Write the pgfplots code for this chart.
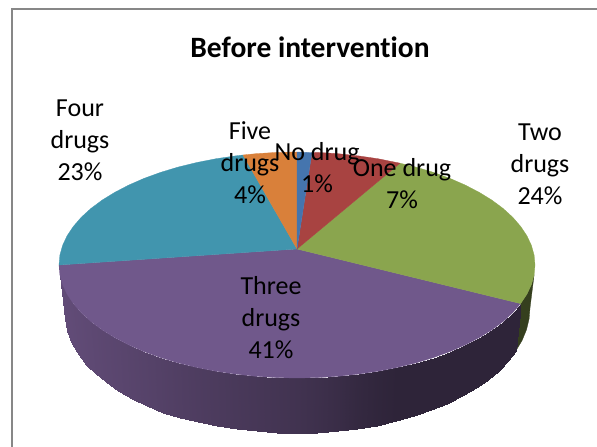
\documentclass[border=0pt]{standalone}
\usepackage{pgfplots}
\pgfplotsset{compat=1.18}
\usepackage{fontspec}
\setmainfont{Carlito}[Ligatures=NoCommon]
\definecolor{cBlue}{HTML}{4575AE}
\definecolor{cRed}{HTML}{A84341}
\definecolor{cGreen}{HTML}{8AA54E}
\definecolor{cPurple}{HTML}{70588B}
\definecolor{cTeal}{HTML}{4195AE}
\definecolor{cOrange}{HTML}{D9803A}
\definecolor{cGreenSide}{HTML}{353F1E}
\definecolor{sideA}{HTML}{624C78}
\definecolor{sideB}{HTML}{2E2439}
\newcommand{\lbl}[3]{\node[align=center,inner sep=0pt,font=\fontsize{26}{32}\selectfont] at (axis cs:#1,#2) {#3};}
\begin{document}
\begin{tikzpicture}
\begin{axis}[
  scale only axis, width=597pt, height=447pt,
  xmin=0, xmax=597, ymin=0, ymax=447, y dir=reverse,
  hide axis, clip=true,
  colormap={sidemap}{color=(sideB) color=(sideA)},
  point meta min=0, point meta max=100,
]
\path (axis cs:0,0) rectangle (axis cs:597,447);
% frame
\addplot[color=black!47, line width=2pt] coordinates {(12,447) (12,9) (597,9)};
% side: green
\addplot[fill=cGreenSide, draw=cGreenSide, line width=.3pt] coordinates {(534.1,274.9) (531.4,284.6) (526.9,294.2) (520.6,303.6) (515.9,350.8) (522.1,340.4) (526.5,329.7) (529.1,318.9) (530,308)} -- cycle;
% side: purple, shaded from the dark right to the lighter left
\addplot[patch, patch type=rectangle, shader=interp, table/row sep=\\,
  patch table={
0 1 3 2\\ 2 3 5 4\\ 4 5 7 6\\ 6 7 9 8\\ 8 9 11 10\\ 10 11 13 12\\ 12 13 15 14\\ 14 15 17 16\\
16 17 19 18\\ 18 19 21 20\\ 20 21 23 22\\ 22 23 25 24\\ 24 25 27 26\\ 26 27 29 28\\ 28 29 31 30\\ 30 31 33 32\\
32 33 35 34\\ 34 35 37 36\\ 36 37 39 38\\ 38 39 41 40\\ 40 41 43 42\\ 42 43 45 44\\ 44 45 47 46\\ 46 47 49 48\\
48 49 51 50\\ 50 51 53 52\\ 52 53 55 54\\ 54 55 57 56\\ 56 57 59 58\\ 58 59 61 60\\ 60 61 63 62\\ 62 63 65 64\\
  }] table[x=x, y=y, point meta=\thisrow{m}] {
x y m\\
520.6 303.6 0\\
515.9 350.8 0\\
512.7 312.8 0\\
508.2 360.8 0\\
503.1 321.5 0\\
498.8 370.5 0\\
492 329.8 0\\
487.9 379.7 0\\
479.3 337.6 0\\
475.5 388.3 0\\
465.3 344.9 0\\
461.8 396.4 0\\
450 351.6 0\\
446.8 403.8 0\\
433.5 357.6 0\\
430.6 410.4 0\\
416 362.9 0\\
413.5 416.3 0\\
397.6 367.4 0\\
395.5 421.3 0\\
378.4 371.2 5\\
376.7 425.5 5\\
358.6 374.1 12\\
357.3 428.7 12\\
338.3 376.3 22\\
337.5 431.1 22\\
317.8 377.6 30\\
317.3 432.5 30\\
297 378 37\\
297 433 37\\
276.2 377.6 42\\
276.7 432.5 42\\
255.7 376.3 47\\
256.5 431.1 47\\
235.4 374.1 52\\
236.7 428.7 52\\
215.6 371.2 57\\
217.3 425.8 57\\
196.4 367.4 62\\
198.5 422 62\\
178 362.9 67\\
180.5 418 67\\
160.5 357.6 72\\
163 412.5 72\\
144 351.6 77\\
147 405.5 77\\
128.7 344.9 81\\
132 398.5 81\\
114.7 337.6 85\\
118.5 390.5 85\\
102 329.8 88\\
106 382 88\\
90.9 321.5 91\\
96 373.5 91\\
81.3 312.8 94\\
86.5 365 94\\
73.4 303.6 96\\
79 354.5 96\\
67.1 294.2 98\\
72.5 344 98\\
62.6 284.6 99\\
67.5 331 99\\
59.9 274.9 100\\
64.9 319 100\\
59 265 100\\
64 308 100\\
};
% top: purple, Three drugs 41%
\addplot[fill=cPurple, draw=cPurple, line width=.3pt] coordinates {(297,249) (520.6,303.6) (512.7,312.8) (503.1,321.5) (492,329.8) (479.3,337.6) (465.3,344.9) (450,351.6) (433.5,357.6) (416,362.9) (397.6,367.4) (378.4,371.2) (358.6,374.1) (338.3,376.3) (317.8,377.6) (297,378) (276.2,377.6) (255.7,376.3) (235.4,374.1) (215.6,371.2) (196.4,367.4) (178,362.9) (160.5,357.6) (144,351.6) (128.7,344.9) (114.7,337.6) (102,329.8) (90.9,321.5) (81.3,312.8) (73.4,303.6) (67.1,294.2) (62.6,284.6) (59.9,274.9) (59,265)} -- cycle;
% top: teal, Four drugs 23%
\addplot[fill=cTeal, draw=cTeal, line width=.3pt] coordinates {(297,249) (59,265) (59.9,255.1) (62.6,245.4) (67.1,235.8) (73.4,226.4) (81.3,217.2) (90.9,208.5) (102,200.2) (114.7,192.4) (128.7,185.1) (144,178.4) (160.5,172.4) (178,167.1) (196.4,162.6) (215.6,158.8) (235.4,155.9) (243,155)} -- cycle;
% top: orange, Five drugs 4%
\addplot[fill=cOrange, draw=cOrange, line width=.3pt] coordinates {(297,249) (243,155) (255.7,153.7) (276.2,152.4) (297,152)} -- cycle;
% top: green, Two drugs 24%
\addplot[fill=cGreen, draw=cGreen, line width=.3pt] coordinates {(297,249) (400,163.2) (416,167.1) (433.5,172.4) (450,178.4) (465.3,185.1) (479.3,192.4) (492,200.2) (503.1,208.5) (512.7,217.2) (520.6,226.4) (526.9,235.8) (531.4,245.4) (534.1,255.1) (535,265) (534.1,274.9) (531.4,284.6) (526.9,294.2) (520.6,303.6)} -- cycle;
% top: red, One drug 7%
\addplot[fill=cRed, draw=cRed, line width=.3pt] coordinates {(297,249) (312,152.6) (317.8,152.4) (338.3,153.7) (358.6,155.9) (378.4,158.8) (400,163.2)} -- cycle;
% top: blue, No drug 1%
\addplot[fill=cBlue, draw=cBlue, line width=.3pt] coordinates {(297,249) (297,152) (312,152.6)} -- cycle;
% text
\node[inner sep=0pt,font=\fontsize{29.5}{34}\selectfont\bfseries] at (axis cs:310,47) {Before intervention};
\lbl{80}{140}{Four\\drugs\\23\%}
\lbl{250}{163}{Five\\drugs\\4\%}
\lbl{317}{168}{No drug\\1\%}
\lbl{402}{184}{One drug\\7\%}
\lbl{540}{164}{Two\\drugs\\24\%}
\lbl{271}{318}{Three\\drugs\\41\%}
\end{axis}
\end{tikzpicture}
\end{document}
